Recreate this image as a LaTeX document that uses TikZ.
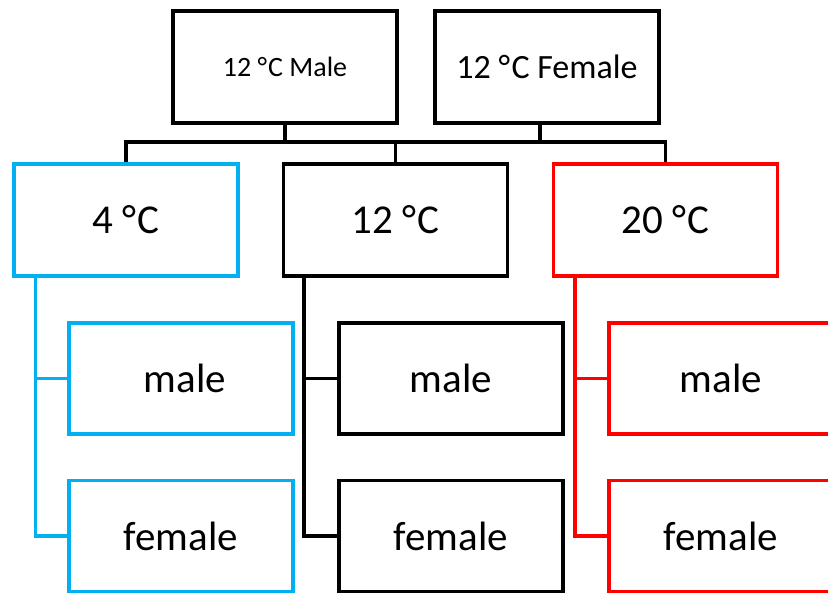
\documentclass[tikz,border=0pt]{standalone}
\usepackage{fontspec}
\setmainfont{Carlito}
\usetikzlibrary{calc}
\definecolor{cblue}{HTML}{00B0F0}
\definecolor{cred}{HTML}{FF0000}
\newcommand{\dgC}{{°}\kern0.04em{}C}
\begin{document}
\begin{tikzpicture}[x=1pt,y=-1pt,
  box/.style={draw,line width=3.3pt,minimum width=224pt,minimum height=112pt,inner sep=0pt,font=\fontsize{41}{48}\selectfont},
  tbox/.style={box,font=\fontsize{28}{32}\selectfont},
  link/.style={line width=3.3pt},
]
\useasboundingbox (0,0) rectangle (828,594);
\clip (0,0) rectangle (828,594);
% top
\node[tbox] (tm) at (285,67) {12 \dgC{} Male};
\node[box,font=\fontsize{34}{40}\selectfont] (tf) at (547,67) {12 \dgC{} Female};
% level 2
\node[box,draw=cblue] (c4) at (126,220) {4 \dgC};
\node[box] (c12) at (395.5,220) {12 \dgC};
\node[box,draw=cred] (c20) at (665.5,220) {20 \dgC};
% level 3
\node[box,draw=cblue,minimum height=111pt] (bm) at (181,378.5) {\hspace*{8pt}male};
\node[box,draw=cblue,minimum height=111pt] (bf) at (181,536) {female};
\node[box,minimum height=111pt] (km) at (451,378.5) {male};
\node[box,minimum height=111pt] (kf) at (451,536) {female};
\node[box,draw=cred,minimum height=111pt] (rm) at (721,378.5) {male};
\node[box,draw=cred,minimum height=111pt] (rf) at (721,536) {female};
% bus
\coordinate (bus) at (0,142);
\draw[link] (tm.south) -- (tm.south |- bus);
\draw[link] ($(tf.south)+(-7,0)$) -- ($(tf.south |- bus)+(-7,1.5)$);
\draw[link] (c4.north) -- (c4.north |- bus) -- (c20.north |- bus) -- (c20.north);
\draw[link] (c12.north |- bus) -- (c12.north);
% spines
\draw[link,cblue] ($(c4.south west)+(23,0)$) |- (bm.west);
\draw[link,cblue] ($(c4.south west)+(23,0)$) |- (bf.west);
\draw[link] ($(c12.south west)+(22,0)$) |- (km.west);
\draw[link] ($(c12.south west)+(22,0)$) |- (kf.west);
\draw[link,cred] ($(c20.south west)+(23,0)$) |- (rm.west);
\draw[link,cred] ($(c20.south west)+(23,0)$) |- (rf.west);
\end{tikzpicture}
\end{document}
